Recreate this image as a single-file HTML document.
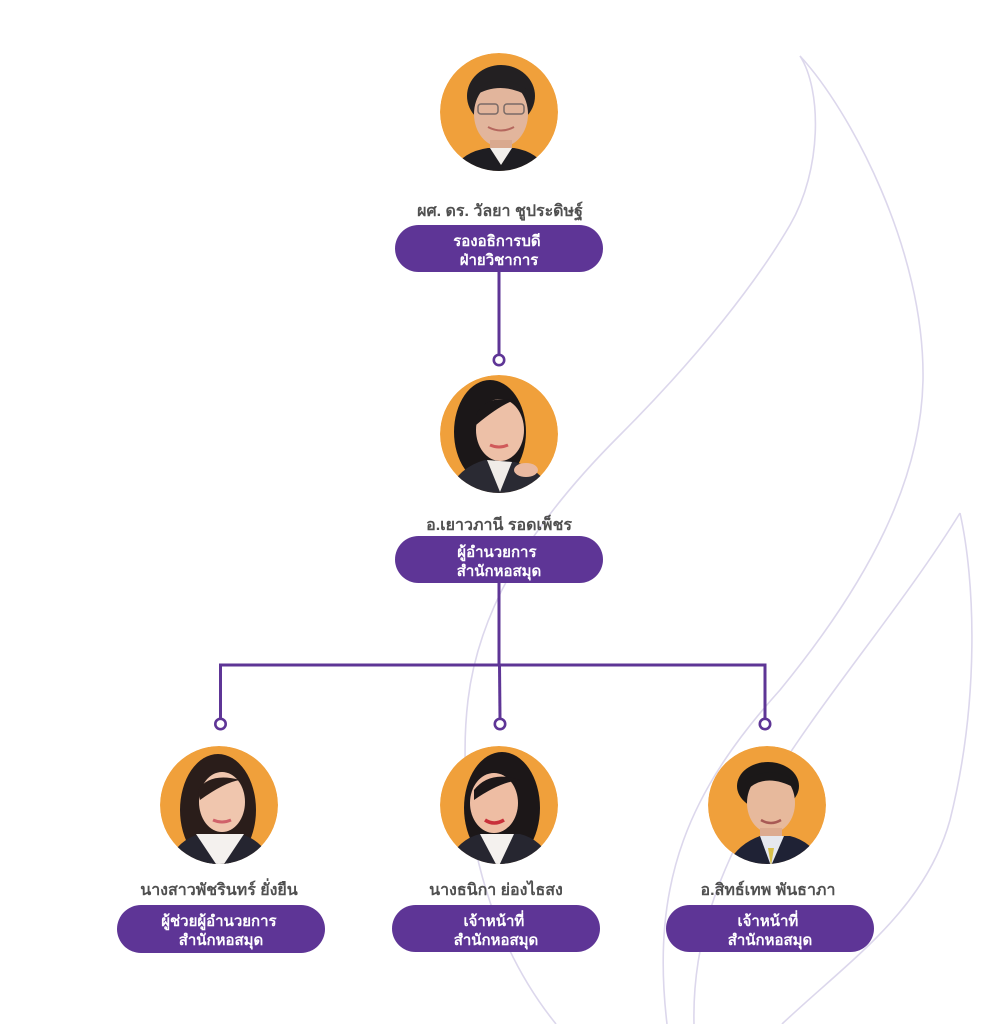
<!DOCTYPE html>
<html><head><meta charset="utf-8">
<style>
html,body{margin:0;padding:0;background:#fff;}
body{width:996px;height:1024px;overflow:hidden;}
svg{display:block;}
.nm{font-family:"Liberation Sans","DejaVu Sans",sans-serif;font-size:16px;fill:#505050;font-weight:600;}
.pt{font-family:"Liberation Sans","DejaVu Sans",sans-serif;font-size:15px;fill:#fff;font-weight:bold;}
</style></head>
<body>
<svg width="996" height="1024" viewBox="0 0 996 1024" xmlns="http://www.w3.org/2000/svg">
<defs>
<clipPath id="c1"><circle cx="499" cy="112" r="59"/></clipPath>
<clipPath id="c2"><circle cx="499" cy="434" r="59"/></clipPath>
<clipPath id="c3"><circle cx="219" cy="805" r="59"/></clipPath>
<clipPath id="c4"><circle cx="499" cy="805" r="59"/></clipPath>
<clipPath id="c5"><circle cx="767" cy="805" r="59"/></clipPath>
</defs>
<!-- background leaves -->
<g fill="none" stroke="#dcd7ec" stroke-width="1.6">
<path d="M800,56 C822,90 822,170 790,225 S700,355 620,435 S480,600 468,700 S480,930 556,1024"/>
<path d="M800,56 C850,110 925,250 923,380 C921,480 870,580 780,690 C690,790 650,880 667,1024"/>
<path d="M960,513 C975,580 980,700 950,820 C925,910 850,960 782,1024"/>
<path d="M960,513 C900,610 820,700 760,800 C720,870 692,940 694,1024"/>
</g>
<!-- connectors -->
<g fill="none" stroke="#5e3596" stroke-width="3">
<line x1="499" y1="270" x2="499" y2="354"/>
<line x1="499" y1="580" x2="499" y2="665"/>
<polyline points="220.5,718 220.5,665 765,665 765,718"/>
<line x1="499.5" y1="665" x2="500" y2="718"/>
</g>
<g fill="#fff" stroke="#5e3596" stroke-width="2.6">
<circle cx="499" cy="360" r="5.2"/>
<circle cx="220.5" cy="724" r="5.2"/>
<circle cx="500" cy="724" r="5.2"/>
<circle cx="765" cy="724" r="5.2"/>
</g>

<!-- person 1 -->
<g clip-path="url(#c1)">
<circle cx="499" cy="112" r="59" fill="#f0a03b"/>
<ellipse cx="501" cy="96" rx="34" ry="31" fill="#232022"/>
<ellipse cx="501" cy="114" rx="27" ry="33" fill="#e2b59c"/>
<path d="M474,96 Q500,80 528,96 L528,90 Q500,70 474,90 Z" fill="#232022"/>
<rect x="478" y="104" width="20" height="10" rx="3" fill="none" stroke="#7a6a66" stroke-width="1.5"/>
<rect x="504" y="104" width="20" height="10" rx="3" fill="none" stroke="#7a6a66" stroke-width="1.5"/>
<path d="M488,127 Q501,134 514,127" fill="none" stroke="#b5675e" stroke-width="2"/>
<rect x="490" y="140" width="22" height="12" fill="#d9a98f"/>
<path d="M450,175 Q460,152 488,148 L514,148 Q540,152 550,175 Z" fill="#1e1d22"/>
<path d="M490,148 L501,165 L512,148 Z" fill="#f2efec"/>
</g>
<!-- person 2 -->
<g clip-path="url(#c2)">
<circle cx="499" cy="434" r="59" fill="#f0a03b"/>
<ellipse cx="490" cy="432" rx="36" ry="52" fill="#1b1718"/>
<ellipse cx="500" cy="430" rx="24" ry="31" fill="#edc0a7"/>
<path d="M476,415 Q485,395 515,400 Q500,405 476,425 Z" fill="#1b1718"/>
<path d="M490,445 Q499,449 508,445" fill="none" stroke="#d05a5a" stroke-width="3"/>
<path d="M445,500 Q455,468 485,460 L515,462 Q545,470 555,500 Z" fill="#2a2a33"/>
<path d="M487,460 L500,492 L512,462 Z" fill="#f0ece8"/>
<ellipse cx="526" cy="470" rx="12" ry="7" fill="#e9b9a0"/>
</g>
<!-- person 3 -->
<g clip-path="url(#c3)">
<circle cx="219" cy="805" r="59" fill="#f0a03b"/>
<ellipse cx="218" cy="810" rx="38" ry="56" fill="#2a1d1a"/>
<ellipse cx="222" cy="802" rx="23" ry="30" fill="#f0c6ae"/>
<path d="M198,790 Q210,772 240,780 Q225,782 200,800 Z" fill="#2a1d1a"/>
<path d="M213,820 Q222,824 231,820" fill="none" stroke="#d0626a" stroke-width="3"/>
<path d="M165,870 Q175,840 200,834 L240,834 Q265,840 275,870 Z" fill="#252530"/>
<path d="M196,834 L220,870 L244,834 Z" fill="#f4f1ee"/>
</g>
<!-- person 4 -->
<g clip-path="url(#c4)">
<circle cx="499" cy="805" r="59" fill="#f0a03b"/>
<ellipse cx="502" cy="808" rx="38" ry="56" fill="#1c1718"/>
<ellipse cx="494" cy="803" rx="24" ry="30" fill="#eebda3"/>
<path d="M474,790 Q490,770 520,780 Q500,782 474,800 Z" fill="#1c1718"/>
<path d="M485,820 Q494,826 504,820" fill="none" stroke="#c8303a" stroke-width="3.5"/>
<path d="M445,870 Q455,840 480,834 L520,834 Q545,840 555,870 Z" fill="#262630"/>
<path d="M480,834 L498,868 L514,834 Z" fill="#f4f1ee"/>
</g>
<!-- person 5 -->
<g clip-path="url(#c5)">
<circle cx="767" cy="805" r="59" fill="#f0a03b"/>
<ellipse cx="768" cy="786" rx="31" ry="24" fill="#1b1818"/>
<ellipse cx="771" cy="803" rx="24" ry="30" fill="#e7b99c"/>
<path d="M747,790 Q765,772 795,788 L795,780 Q770,765 745,780 Z" fill="#1b1818"/>
<path d="M761,820 Q771,826 781,820" fill="none" stroke="#a85a55" stroke-width="2.5"/>
<rect x="760" y="828" width="22" height="10" fill="#ddab90"/>
<path d="M725,870 Q735,845 760,836 L790,836 Q815,842 825,870 Z" fill="#1f2235"/>
<path d="M760,836 L771,866 L784,836 Z" fill="#e6e8ee"/>
<path d="M768,848 L771,866 L774,848 Z" fill="#d8c04a"/>
</g>

<!-- names -->
<text class="nm" x="500" y="216" text-anchor="middle">ผศ. ดร. วัลยา ชูประดิษฐ์</text>
<text class="nm" x="499" y="530" text-anchor="middle">อ.เยาวภานี  รอดเพ็ชร</text>
<text class="nm" x="219" y="895" text-anchor="middle">นางสาวพัชรินทร์  ยั่งยืน</text>
<text class="nm" x="496" y="895" text-anchor="middle">นางธนิกา ย่องไธสง</text>
<text class="nm" x="768" y="895" text-anchor="middle">อ.สิทธ์เทพ พันธาภา</text>

<!-- pills -->
<g fill="#5e3596">
<rect x="395" y="225" width="208" height="47" rx="23.5"/>
<rect x="395" y="536" width="208" height="47" rx="23.5"/>
<rect x="117" y="905" width="208" height="48" rx="24"/>
<rect x="392" y="905" width="208" height="47" rx="23.5"/>
<rect x="666" y="905" width="208" height="47" rx="23.5"/>
</g>
<text class="pt" text-anchor="middle">
<tspan x="499" y="246">รองอธิการบดี</tspan>
<tspan x="499" y="265">ฝ่ายวิชาการ</tspan>
</text>
<text class="pt" text-anchor="middle">
<tspan x="499" y="557">ผู้อำนวยการ</tspan>
<tspan x="499" y="576">สำนักหอสมุด</tspan>
</text>
<text class="pt" text-anchor="middle">
<tspan x="221" y="926">ผู้ช่วยผู้อำนวยการ</tspan>
<tspan x="221" y="945">สำนักหอสมุด</tspan>
</text>
<text class="pt" text-anchor="middle">
<tspan x="496" y="926">เจ้าหน้าที่</tspan>
<tspan x="496" y="945">สำนักหอสมุด</tspan>
</text>
<text class="pt" text-anchor="middle">
<tspan x="770" y="926">เจ้าหน้าที่</tspan>
<tspan x="770" y="945">สำนักหอสมุด</tspan>
</text>
</svg>
</body></html>
